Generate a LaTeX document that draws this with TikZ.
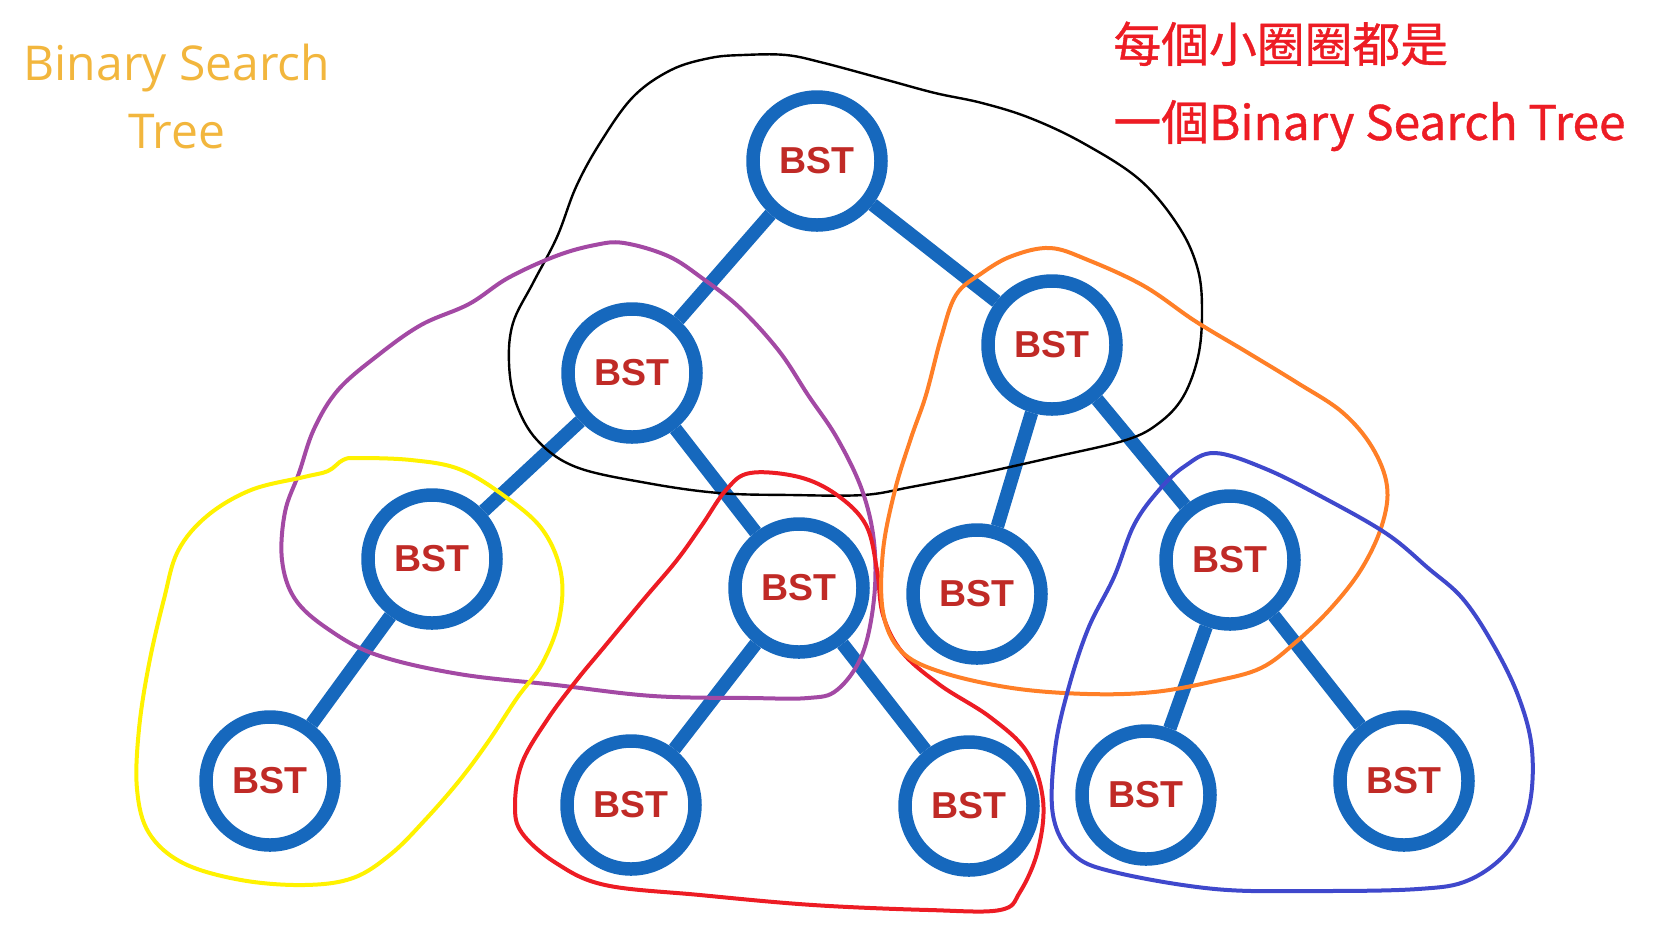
\documentclass[tikz,border=0pt]{standalone}
\usepackage{fontspec}
\usepackage{tikz}
\usetikzlibrary{backgrounds}

\newfontfamily\bstfont{Liberation Sans}
\newfontfamily\titlefont{Open Sans}
\newfontfamily\cjkfont{Noto Sans CJK TC}[FakeBold=0.8]

\definecolor{treeblue}{RGB}{22,104,189}
\definecolor{bstred}{RGB}{192,42,38}
\definecolor{titleorange}{RGB}{242,182,61}
\definecolor{notered}{RGB}{237,28,36}
\definecolor{penpurple}{RGB}{163,73,164}
\definecolor{penyellow}{RGB}{255,242,0}
\definecolor{penred}{RGB}{237,28,36}
\definecolor{penorange}{RGB}{255,127,39}
\definecolor{penblue}{RGB}{63,72,204}

\begin{document}
\begin{tikzpicture}[
    x=0.5pt, y=-0.5pt,
    bst/.style={
        circle, draw=treeblue, line width=6.75pt, fill=white,
        minimum size=64pt, inner sep=0pt, text=bstred,
        font=\bstfont\bfseries\fontsize{18.75}{20}\selectfont
    },
    link/.style={draw=treeblue, line width=6.75pt},
    crayon/.style={line width=2pt, line join=round},
    title/.style={text=titleorange, align=center, inner sep=0pt,
        font=\titlefont\fontsize{24}{34}\selectfont},
    note/.style={text=notered, align=left, inner sep=0pt,
        font=\cjkfont\fontsize{23.9}{39}\selectfont}
]
\useasboundingbox (0,0) rectangle (1655,934);

% --- labels (base = last line) ---
\node[title, anchor=base] (T) at (177,148) {Binary Search\\Tree};
\node[note, anchor=base west] (N) at (1113,140) {每個小圈圈都是\\一個Binary Search Tree};

% --- tree nodes ---
\node[bst] (root) at (817,161) {BST};
\node[bst] (l)    at (632,373) {BST};
\node[bst] (r)    at (1052,345) {BST};
\node[bst] (ll)   at (432,559) {BST};
\node[bst] (lr)   at (799,588) {BST};
\node[bst] (rl)   at (977,594) {BST};
\node[bst] (rr)   at (1230,560) {BST};
\node[bst] (lll)  at (270,781) {BST};
\node[bst] (lrl)  at (631,805) {BST};
\node[bst] (lrr)  at (969,806) {BST};
\node[bst] (rrl)  at (1146,795) {BST};
\node[bst] (rrr)  at (1404,781) {BST};

% --- branches (behind the circles) ---
\begin{scope}[on background layer]
\draw[link] (root) -- (l);
\draw[link] (root) -- (r);
\draw[link] (l) -- (ll);
\draw[link] (l) -- (lr);
\draw[link] (r) -- (rl);
\draw[link] (r) -- (rr);
\draw[link] (ll) -- (lll);
\draw[link] (lr) -- (lrl);
\draw[link] (lr) -- (lrr);
\draw[link] (rr) -- (rrl);
\draw[link] (rr) -- (rrr);
\end{scope}

% --- hand drawn subtree loops ---
\draw[crayon, black, line width=1.2pt] plot[smooth cycle, tension=0.6] coordinates {
    (743,55) (786,55) (824,63) (887,80) (935,93) (982,103) (1030,118)
    (1083,143) (1140,180) (1179,227) (1198,270) (1202,313) (1198,357)
    (1183,397) (1159,423) (1126,440) (1054,457) (982,473) (911,487)
    (863,495) (791,495) (719,493) (647,483) (576,467) (537,440) (516,403)
    (509,363) (513,323) (533,283) (557,237) (576,187) (600,143) (633,97)
    (671,70) (710,58)};
\draw[crayon, penpurple] plot[smooth cycle, tension=0.6] coordinates {
    (624,243) (668,256) (702,278) (740,308) (779,351) (808,395) (837,438)
    (862,490) (874,542) (874,599) (862,655) (837,690) (808,698) (750,698)
    (653,696) (556,685) (459,674) (377,655) (328,629) (295,599) (282,560)
    (285,512) (299,473) (314,429) (338,390) (377,356) (421,325) (469,304)
    (508,278) (556,256) (595,245)};
\draw[crayon, penyellow] plot[smooth cycle, tension=0.6] coordinates {
    (358,458) (411,460) (459,469) (503,495) (542,529) (561,573) (559,620)
    (542,664) (517,698) (488,742) (459,781) (425,820) (391,854) (353,878)
    (304,885) (241,880) (183,863) (149,833) (137,789) (139,729) (149,664)
    (164,599) (178,551) (207,516) (251,490) (304,477) (328,471) (343,460)};
\draw[crayon, penred] plot[smooth cycle, tension=0.6] coordinates {
    (750,473) (799,477) (837,495) (866,525) (877,570) (883,615) (902,652)
    (940,685) (990,717) (1027,752) (1043,800) (1038,850) (1020,892)
    (1000,910) (929,910) (813,905) (700,895) (605,885) (556,863) (522,833)
    (515,805) (522,763) (547,720) (576,681) (605,646) (644,599) (677,560)
    (702,525) (726,490)};
\draw[crayon, penorange] plot[smooth cycle, tension=0.6] coordinates {
    (1050,248) (1088,260) (1144,286) (1195,321) (1245,351) (1296,382)
    (1342,412) (1372,447) (1387,486) (1382,525) (1362,568) (1332,607)
    (1296,642) (1261,668) (1215,681) (1154,692) (1088,694) (1012,688)
    (941,672) (901,651) (883,612) (883,551) (895,490) (911,438) (926,395)
    (941,338) (956,295) (982,273) (1012,256)};
\draw[crayon, penblue] plot[smooth cycle, tension=0.6] coordinates {
    (1215,453) (1266,469) (1326,499) (1387,534) (1428,568) (1463,599)
    (1494,646) (1519,698) (1532,750) (1529,807) (1509,850) (1469,880)
    (1418,889) (1316,891) (1215,889) (1114,872) (1073,854) (1053,815)
    (1055,750) (1068,690) (1088,629) (1114,577) (1134,525) (1159,490)
    (1185,466)};

\end{tikzpicture}
\end{document}
